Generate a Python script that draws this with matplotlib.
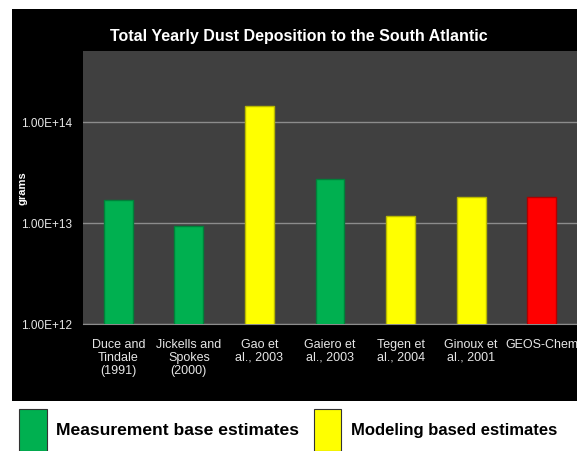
import matplotlib
matplotlib.use("Agg")
import matplotlib.pyplot as plt
from matplotlib.patches import Rectangle

# values (grams, log axis)
studies = ["Duce and\nTindale\n(1991)", "Jickells and\nSpokes\n(2000)", "Gao et\nal., 2003",
           "Gaiero et\nal., 2003", "Tegen et\nal., 2004", "Ginoux et\nal., 2001", "GEOS-Chem"]
deposition = [1.68e13, 9.3e12, 1.43e14, 2.74e13, 1.17e13, 1.82e13, 1.82e13]
kind = ["meas", "meas", "model", "meas", "model", "model", "geos"]

fill = {"meas": "#00b050", "model": "#ffff00", "geos": "#ff0000"}
edge = {"meas": "#00813a", "model": "#b8b800", "geos": "#b00000"}

plt.rcParams['font.family'] = ['Liberation Sans', 'DejaVu Sans']

fig = plt.figure(figsize=(5.77, 4.52), dpi=100)
fig.patch.set_facecolor("white")

# black chart frame
fig.patches.append(Rectangle((12/577, 50/452), 565/577, 392/452, transform=fig.transFigure,
                             facecolor="black", edgecolor="none", zorder=-1))

ax = fig.add_axes([83/577, 127/452, 494/577, 273/452])
ax.set_zorder(2)
ax.set_facecolor("#404040")
x = range(len(studies))
ax.bar(x, deposition, width=0.41,
       color=[fill[k] for k in kind], edgecolor=[edge[k] for k in kind], linewidth=1.0, zorder=3)
ax.set_yscale("log")
ax.set_ylim(1e12, 5e14)
ax.set_xlim(-0.5, 6.5)
ax.set_yticks([1e12, 1e13, 1e14])
ax.set_yticklabels(["1.00E+12", "1.00E+13", "1.00E+14"])
ax.minorticks_off()
ax.set_xticks(list(x))
ax.set_xticklabels(studies)
ax.tick_params(axis="both", length=0, colors="#e6e6e6", labelsize=9)
ax.tick_params(axis="x", pad=10)
ax.tick_params(axis="y", pad=8, labelsize=8.5)
for lab in ax.get_xticklabels():
    lab.set_linespacing(1.1)
ax.grid(axis="y", color="#8c8c8c", linewidth=1.0, zorder=1)
for s in ["top", "right", "left"]:
    ax.spines[s].set_visible(False)
ax.spines["bottom"].set_color("#8c8c8c")
ax.set_ylabel("grams", color="white", fontsize=8, fontweight="bold")
ax.yaxis.set_label_coords(-0.113, 0.5)

fig.text(299/577, 1 - 36/452, "Total Yearly Dust Deposition to the South Atlantic",
         color="white", fontsize=11.5, fontweight="bold", ha="center", va="center")

# legend below chart
fig.patches.append(Rectangle((19/577, 0), 28/577, 42/452, transform=fig.transFigure,
                             facecolor="#00b050", edgecolor="#333333", linewidth=0.8))
fig.patches.append(Rectangle((314/577, 0), 27/577, 42/452, transform=fig.transFigure,
                             facecolor="#ffff00", edgecolor="#333333", linewidth=0.8))
fig.text(56/577, 1 - 431/452, "Measurement base estimates", color="black",
         fontsize=12.6, fontweight="bold", ha="left", va="center")
fig.text(351/577, 1 - 431/452, "Modeling based estimates", color="black",
         fontsize=12, fontweight="bold", ha="left", va="center")

fig.savefig("out.png", dpi=100, facecolor=fig.get_facecolor())
